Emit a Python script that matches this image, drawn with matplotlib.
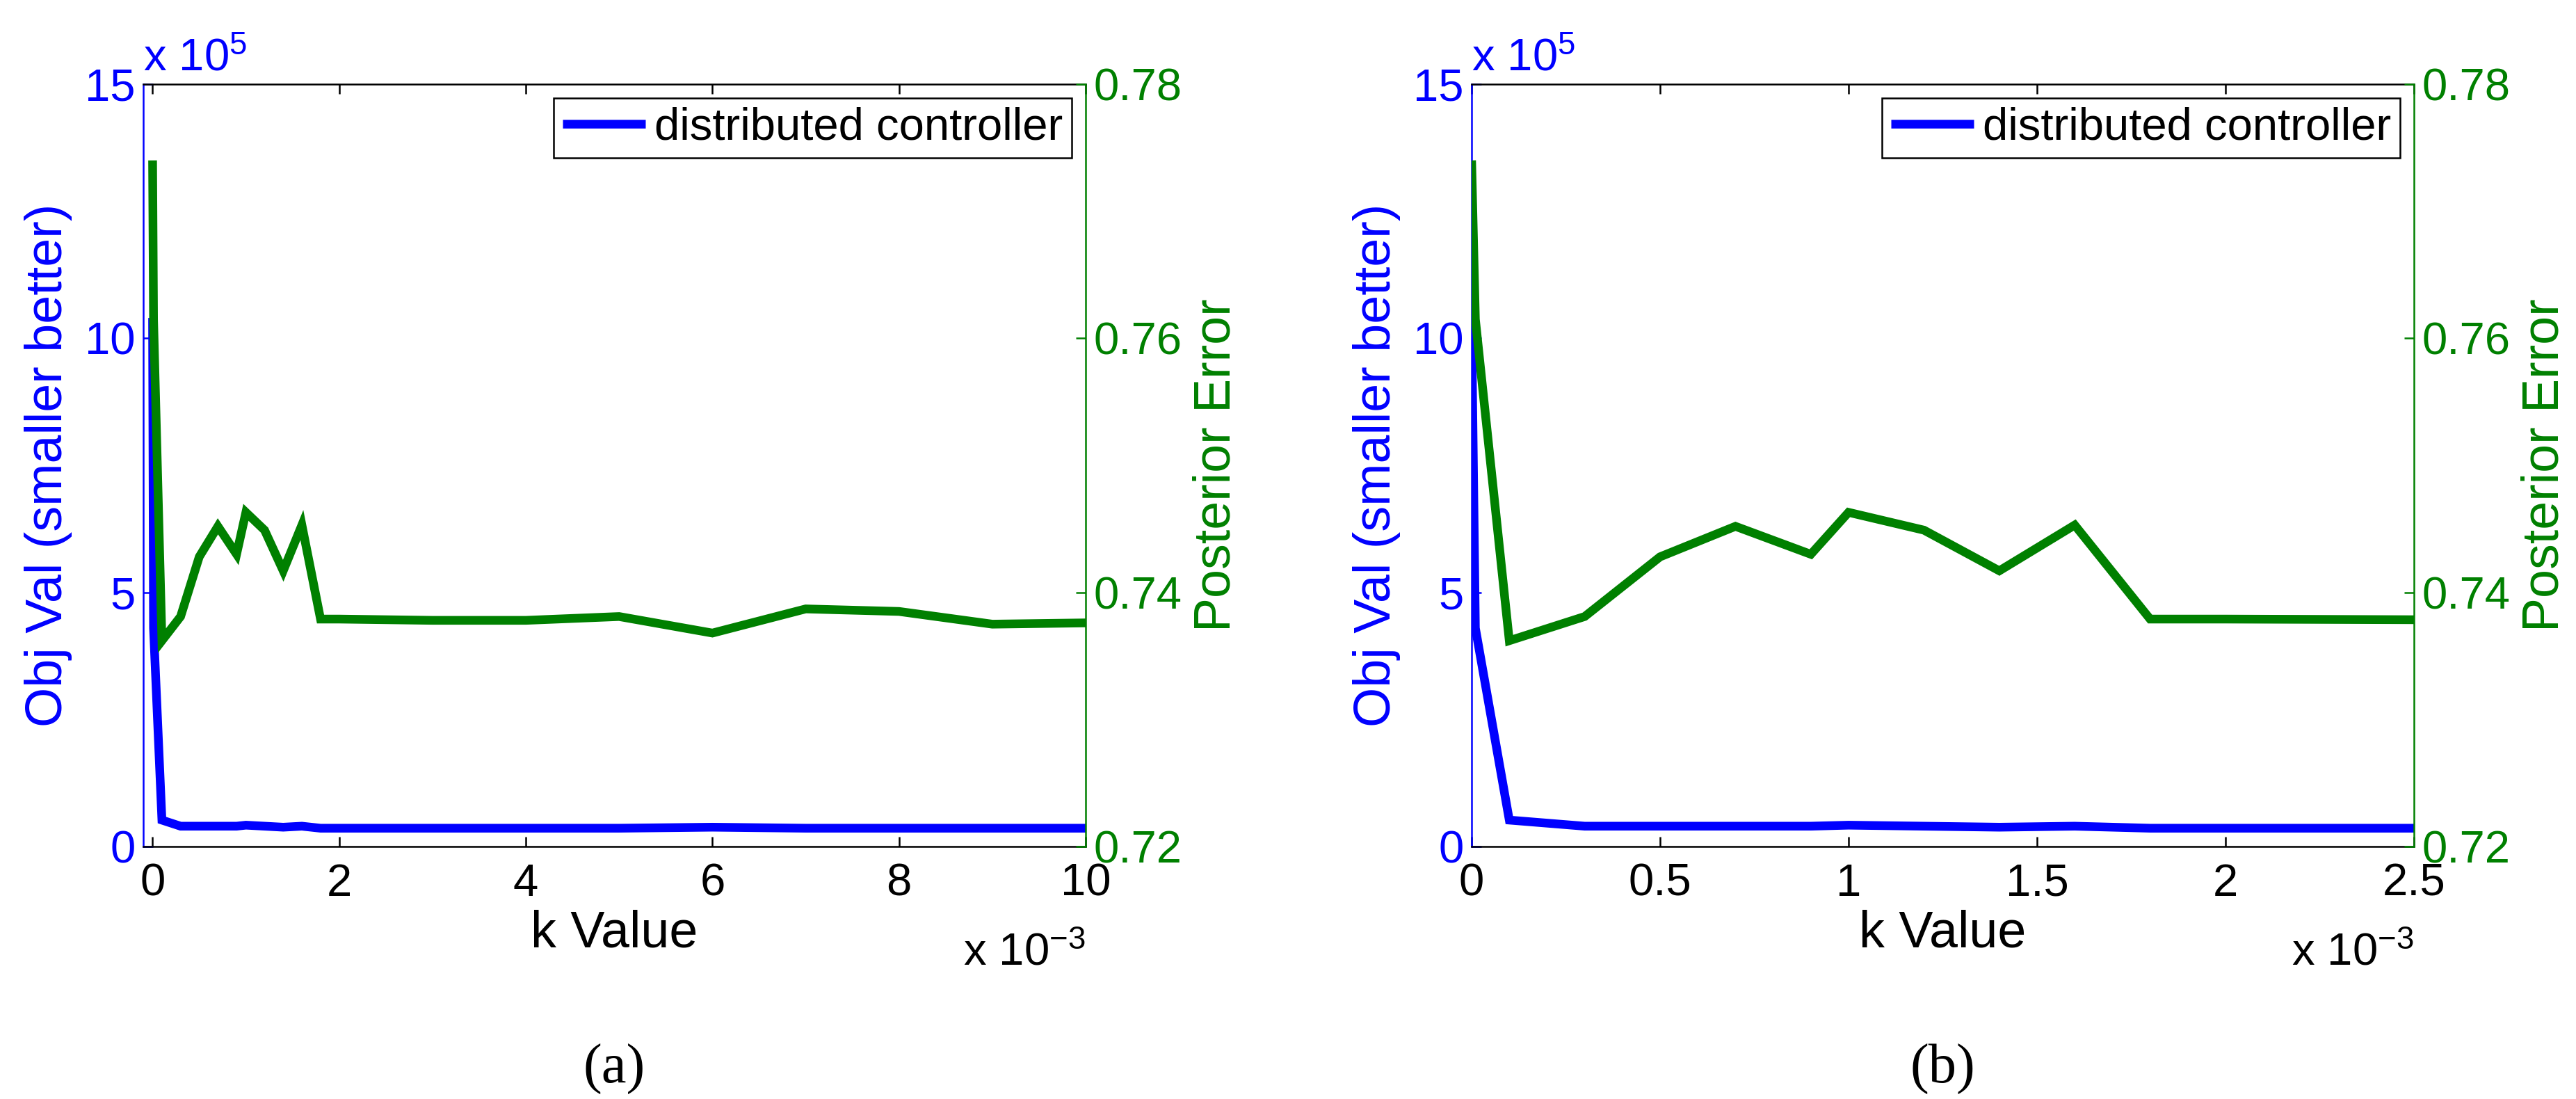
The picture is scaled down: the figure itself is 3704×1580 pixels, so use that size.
import matplotlib
matplotlib.use('Agg')
import matplotlib.pyplot as plt

matplotlib.rc('font', family='Liberation Sans')
matplotlib.rcParams['mathtext.fontset'] = 'custom'
matplotlib.rcParams['mathtext.rm'] = 'Liberation Sans'
matplotlib.rcParams['mathtext.it'] = 'Liberation Sans:italic'
matplotlib.rcParams['mathtext.bf'] = 'Liberation Sans:bold'

# k values (x 1e-3)
k_vals = [0, 0.01, 0.1, 0.3, 0.5, 0.7, 0.9, 1.0, 1.2, 1.4, 1.6, 1.8,
          2, 3, 4, 5, 6, 7, 8, 9, 10]
# objective value (x 1e5)
obj_val = [10.4, 4.3, 0.52, 0.40, 0.40, 0.40, 0.40, 0.42, 0.40, 0.38, 0.40, 0.36,
           0.36, 0.36, 0.36, 0.36, 0.38, 0.36, 0.36, 0.36, 0.36]
# posterior error
post_err = [0.7740, 0.7615, 0.7362, 0.7381, 0.7428, 0.7452, 0.7430, 0.7463, 0.7449,
            0.7417, 0.7453, 0.7379, 0.7379, 0.7378, 0.7378, 0.7381, 0.7368, 0.7387,
            0.7385, 0.7375, 0.7376]

obj_ticks = [0, 5, 10, 15]
obj_ticklabels = ['0', '5', '10', '15']
err_ticks = [0.72, 0.74, 0.76, 0.78]
err_ticklabels = ['0.72', '0.74', '0.76', '0.78']

# panel (a) and (b): same data, different k range
xlims = [(-0.1, 10), (0, 2.5)]
xticks = [[0, 2, 4, 6, 8, 10], [0, 0.5, 1, 1.5, 2, 2.5]]
xticklabels = [['0', '2', '4', '6', '8', '10'], ['0', '0.5', '1', '1.5', '2', '2.5']]
captions = ['(a)', '(b)']

blue = (0, 0, 1)
green = (0, 0.5, 0)

W, H = 3705, 1580
fig = plt.figure(figsize=(W / 100, H / 100), dpi=100)

ax_left = [206, 2116]
ax_w, ax_top, ax_bot = 1355, 121, 1217
ax_h = ax_bot - ax_top

for i in range(2):
    ax = fig.add_axes([ax_left[i] / W, (H - ax_bot) / H, ax_w / W, ax_h / H])
    ax2 = ax.twinx()

    ax.plot(k_vals, obj_val, color=blue, lw=9, solid_joinstyle='miter',
            solid_capstyle='butt', label='distributed controller')
    ax2.plot(k_vals, post_err, color=green, lw=9, solid_joinstyle='miter',
             solid_capstyle='butt')

    ax.set_xlim(*xlims[i])
    ax.set_xticks(xticks[i])
    ax.set_xticklabels(xticklabels[i])
    ax.set_ylim(0, 15)
    ax.set_yticks(obj_ticks)
    ax.set_yticklabels(obj_ticklabels)
    ax2.set_ylim(0.72, 0.78)
    ax2.set_yticks(err_ticks)
    ax2.set_yticklabels(err_ticklabels)

    # spines
    ax.spines['right'].set_visible(False)
    ax.spines['left'].set_color(blue)
    for s in ['left', 'top', 'bottom']:
        ax2.spines[s].set_visible(False)
    ax2.spines['right'].set_color(green)
    for a in (ax, ax2):
        for s in a.spines.values():
            s.set_linewidth(1.8)

    ax.tick_params(axis='x', direction='in', top=True, bottom=True, length=10,
                   width=1.8, colors='black', labelsize=47, pad=17)
    ax.tick_params(axis='y', direction='in', left=True, right=False, length=10,
                   width=1.8, color=blue, labelcolor=blue, labelsize=47, pad=8)
    ax2.tick_params(axis='y', direction='in', right=True, left=False, length=10,
                    width=1.8, color=green, labelcolor=green, labelsize=47, pad=8)

    ax.set_xlabel('k Value', fontsize=53, va='baseline')
    ax.xaxis.set_label_coords(0.5, (ax_bot - 1362) / ax_h)
    ax.set_ylabel('Obj Val (smaller better)', fontsize=53, color=blue, va='baseline')
    ax.yaxis.set_label_coords((89 - 206) / ax_w, 0.5)
    ax2.set_ylabel('Posterior Error', fontsize=53, color=green, va='baseline',
                   rotation=90)
    ax2.yaxis.set_label_coords((1769 - 206) / ax_w, 0.5)

    # MATLAB style exponent labels
    ax.text(0, (ax_bot - 102) / ax_h, r'x 10$^{5}$', transform=ax.transAxes,
            color=blue, fontsize=47, ha='left', va='baseline')
    ax.text(1, (ax_bot - 1387) / ax_h, r'x 10$^{-3}$', transform=ax.transAxes,
            color='black', fontsize=47, ha='right', va='baseline')

    leg = ax.legend(loc='upper right', fontsize=47, frameon=True, fancybox=False,
                    edgecolor='black', framealpha=1, borderpad=0.2,
                    borderaxespad=0.3, handlelength=1.82, handletextpad=0.2)
    leg.get_frame().set_linewidth(1.8)

    fig.text((ax_left[i] + ax_w / 2) / W, 23 / H, captions[i],
             family='Liberation Serif', fontsize=58, ha='center', va='baseline')

fig.savefig('out.png', dpi=100)
